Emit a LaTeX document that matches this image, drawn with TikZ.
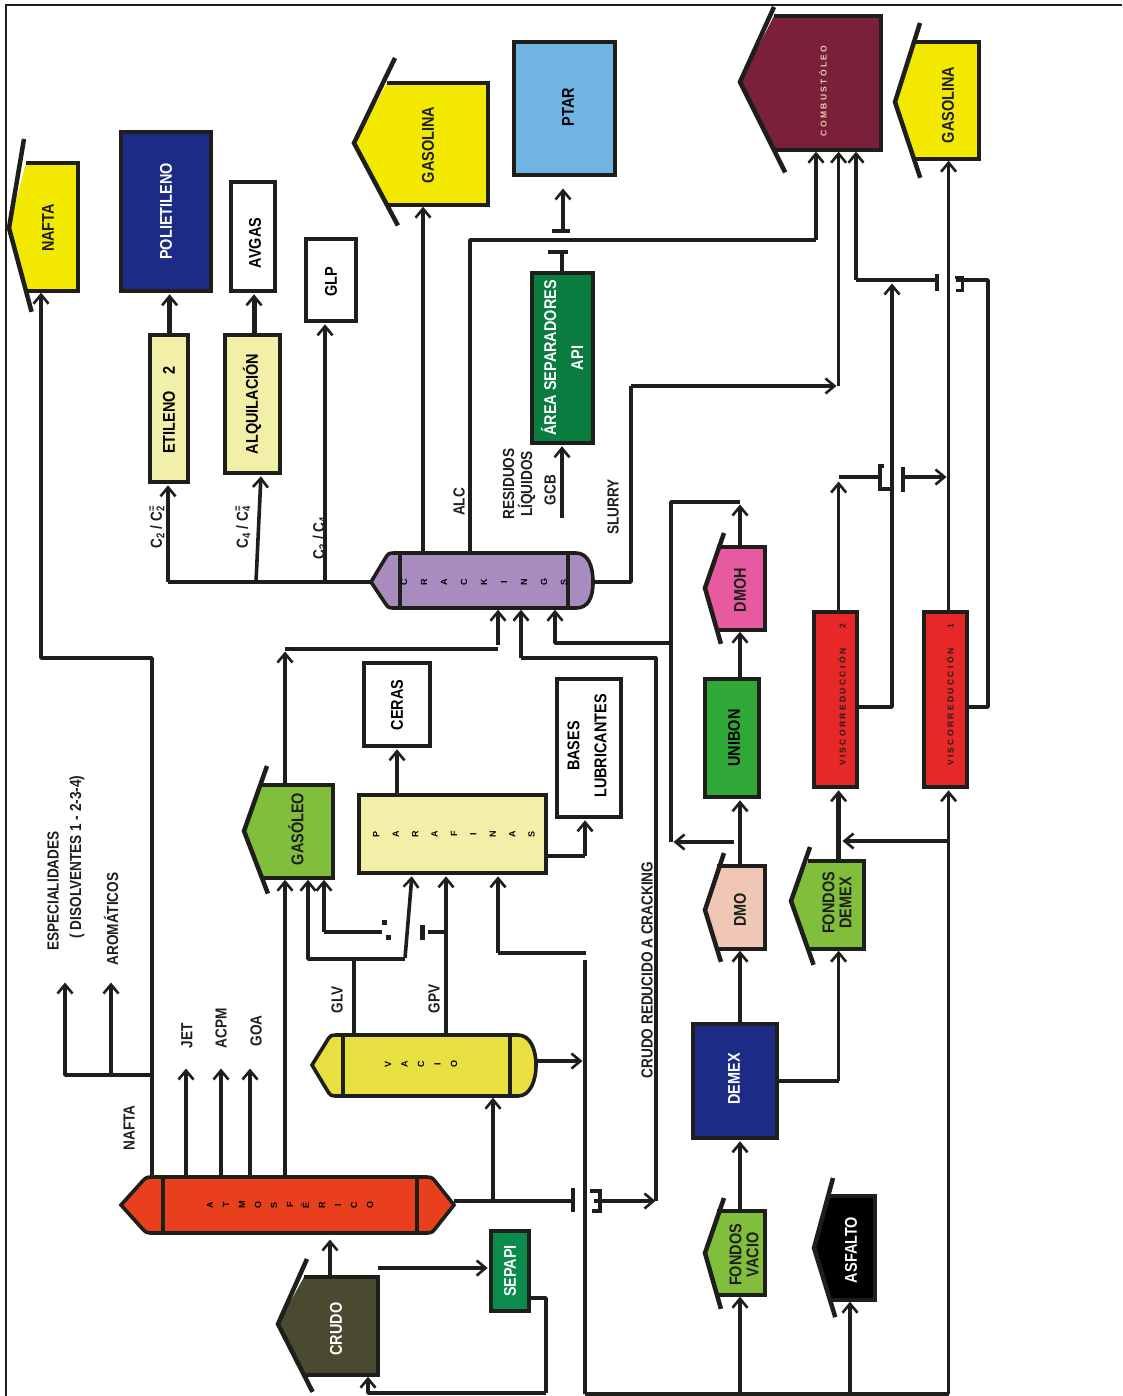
\documentclass[tikz,border=0pt]{standalone}
\usepackage{fontspec}
\setmainfont{Liberation Sans}
\newfontfamily\nar[FakeStretch=0.85]{Liberation Sans}
\usetikzlibrary{arrows.meta,calc}
\definecolor{cYel}{HTML}{F2E800}
\definecolor{cNavy}{HTML}{1C2B85}
\definecolor{cSky}{HTML}{70B4E4}
\definecolor{cGrn}{HTML}{0A7C40}
\definecolor{cLt}{HTML}{F2F0A8}
\definecolor{cLeaf}{HTML}{80BE3C}
\definecolor{cPur}{HTML}{A88CC0}
\definecolor{cRust}{HTML}{E8401C}
\definecolor{cVac}{HTML}{E8E040}
\definecolor{cCrude}{HTML}{4A4A30}
\definecolor{cWine}{HTML}{7A2038}
\definecolor{cPink}{HTML}{E85AA0}
\definecolor{cSalm}{HTML}{F0C6B6}
\definecolor{cUni}{HTML}{30A838}
\definecolor{cRed}{HTML}{E82828}
\definecolor{cSep}{HTML}{0C8C4C}
\definecolor{cInk}{HTML}{1E1E1A}
\tikzset{
  x=1pt,y=-1pt,
  outl/.style={draw=cInk,line width=3.6pt,line join=miter},
  wing/.style={draw=cInk,line width=4.5pt,line join=miter},
  boxn/.style={outl,rectangle,inner sep=0pt,anchor=center,text=cInk},
  ghost/.style={rectangle,inner sep=0pt,anchor=center},
  lbl/.style={rotate=90,inner sep=0pt,align=center,text=cInk,font=\nar\bfseries\fontsize{16}{18}\selectfont},
  txt/.style={rotate=90,inner sep=0pt,align=center,font=\nar\bfseries\fontsize{17}{17}\selectfont},
  flow/.style={draw=cInk,line width=3.6pt,line join=round,shorten >=1.5pt,-{Straight Barb[length=9pt,width=15pt,line width=2.6pt]}},
  pipe/.style={draw=cInk,line width=3.6pt,line join=round},
  tinyt/.style={rotate=90,inner sep=0pt,align=center,font=\fontsize{8.5}{9}\bfseries\selectfont},
  stack/.style={rotate=90,inner sep=0pt,align=center,font=\fontsize{9}{#1}\bfseries\selectfont},
  valvebar/.style={draw=cInk,line width=4pt},
}
\newif\ifpointy
% name, tipx, tipy, cornerx, right, top, bottom, wing top (x,y), fill
\newcommand{\house}[9]{%
  \fill[#9] (#4,#6) -- (#5,#6) -- (#5,#7) -- (#4,#7) -- (#2,#3) -- cycle;
  \draw[outl] (#4,#6) -- (#5,#6) -- (#5,#7) -- (#4,#7);
  \coordinate (#1 wingB) at ($(#2,#3)!1.33!(#4,#7)$);
  \draw[wing] (#8) -- (#2,#3) -- (#1 wingB);
  \node[ghost,minimum width={(#5-#2)*1pt},minimum height={(#7-#6)*1pt}] (#1) at ({(#5+#2)/2},{(#7+#6)/2}) {};
}
% name, left tip, tip y, inner left, inner right, right tip, top, bottom, fill
\newcommand{\colshape}[9]{%
  \coordinate (#1 A) at ({#2+0.6*(#4-#2)},#7);
  \coordinate (#1 B) at ({#2+0.6*(#4-#2)},#8);
  \ifpointy
  \coordinate (#1 C) at ({#6-0.6*(#6-#5)},#7);
  \coordinate (#1 D) at ({#6-0.6*(#6-#5)},#8);
  \draw[outl,fill=#9] (#4,#7) -- ($(#1 A)+(8,0)$) .. controls (#1 A) .. ($(#2,#3)!.8!(#1 A)$) -- (#2,#3)
     -- ($(#2,#3)!.8!(#1 B)$) .. controls (#1 B) .. ($(#1 B)+(8,0)$) -- ($(#1 D)+(-8,0)$)
     .. controls (#1 D) .. ($(#6,#3)!.8!(#1 D)$) -- (#6,#3) -- ($(#6,#3)!.8!(#1 C)$)
     .. controls (#1 C) .. ($(#1 C)+(-8,0)$) -- cycle;
  \else
  \draw[outl,fill=#9] (#4,#7) -- ($(#1 A)+(8,0)$) .. controls (#1 A) .. ($(#2,#3)!.8!(#1 A)$) -- (#2,#3)
     -- ($(#2,#3)!.8!(#1 B)$) .. controls (#1 B) .. ($(#1 B)+(8,0)$) -- (#5+8,#8)
     .. controls (#5+20,#8) and (#6,#3+16) .. (#6,#3)
     .. controls (#6,#3-16) and (#5+20,#7) .. (#5+8,#7) -- cycle;
  \fi
  \draw[outl] (#4,#7) -- (#4,#8) (#5,#7) -- (#5,#8);
  \node[ghost,minimum width={(#6-#2)*1pt},minimum height={(#8-#7)*1pt}] (#1) at ({(#6+#2)/2},{(#8+#7)/2}) {};
}
\begin{document}
\begin{tikzpicture}
\useasboundingbox (0,0) rectangle (1122,1396);
\fill[white] (0,0) rectangle (1122,1396);
\draw[draw=cInk,line width=1.4pt] (6,1396) -- (6,5) -- (1122,5);

% --- house shaped nodes
\house{naf}{9}{228}{26}{78}{163}{291}{24,139}{cYel}
\node[txt,text=cInk] (nafT) at (48,228) {NAFTA};
\house{gas}{354}{143}{387}{488}{83}{205}{395,58}{cYel}
\node[txt,text=cInk] (gasT) at (428,145) {GASOLINA};
\house{com}{740}{82}{774}{881}{16}{150}{774,7}{cWine}
\node[tinyt,text=cSalm] (comT) at (823,91) {C O M B U S T Ó L E O};
\house{gab}{895}{102}{914}{979}{42}{159}{920,23}{cYel}
\node[txt,text=cInk] (gabT) at (948,105) {GASOLINA};
\house{gol}{244}{831}{262}{333}{785}{878}{267,766}{cLeaf}
\node[txt,text=cInk] (golT) at (296,829) {GASÓLEO};
\house{cru}{278}{1324}{304}{378}{1277}{1375}{307,1259}{cCrude}
\node[txt,text=white] (cruT) at (336,1329) {CRUDO};
\house{dmh}{705}{588}{717}{765}{547}{630}{724,533}{cPink}
\node[txt,text=cInk] (dmhT) at (740,590) {DMOH};
\house{dmo}{705}{910}{717}{765}{866}{949}{724,853}{cSalm}
\node[txt,text=cInk] (dmoT) at (740,910) {DMO};
\house{fdx}{791}{901}{808}{864}{861}{949}{810,847}{cLeaf}
\node[txt,text=cInk] (fdxT) at (837,903) {FONDOS\\DEMEX};
\house{fva}{705}{1253}{717}{765}{1211}{1295}{724,1198}{cLeaf}
\node[txt,text=cInk] (fvaT) at (744,1255) {FONDOS\\VACIO};
\house{asf}{814}{1248}{830}{875}{1196}{1300}{833,1178}{black}
\node[txt,text=white] (asfT) at (851,1250) {ASFALTO};

% --- rectangular nodes
\node[boxn,fill=cNavy,minimum width=90pt,minimum height=159pt] (poli) at (166,211.5) {};
\node[txt,text=white] (poliT) at (poli) {POLIETILENO};
\node[boxn,fill=white,minimum width=44pt,minimum height=109pt] (avg) at (253,236.5) {};
\node[txt] (avgT) at (255,243) {AVGAS};
\node[boxn,fill=white,minimum width=50pt,minimum height=82pt] (glp) at (331,280) {};
\node[txt] (glpT) at (331,282) {GLP};
\node[boxn,fill=cSky,minimum width=101pt,minimum height=133pt] (ptar) at (564.5,108.5) {};
\node[txt] (ptarT) at (568,107) {PTAR};
\node[boxn,fill=cGrn,minimum width=61pt,minimum height=170pt] (api) at (562.5,358) {};
\node[txt,text=white] (apiT) at (562,358) {ÁREA SEPARADORES\\[10pt]API};
\node[boxn,fill=cLt,minimum width=38pt,minimum height=147pt] (etil) at (169,408.5) {};
\node[txt] (etilT) at (169,410) {ETILENO\quad 2};
\node[boxn,fill=cLt,minimum width=55pt,minimum height=138pt] (alq) at (252.5,404) {};
\node[txt] (alqT) at (252,404) {ALQUILACIÓN};
\node[boxn,fill=cLt,minimum width=187pt,minimum height=78pt] (para) at (452.5,834) {};
\node[stack=19.4pt] (paraT) at (454,834) {P\\A\\R\\A\\F\\I\\N\\A\\S};
\node[boxn,fill=white,minimum width=66pt,minimum height=83pt] (ceras) at (397,704.5) {};
\node[txt] (cerT) at (397,705) {CERAS};
\node[boxn,fill=white,minimum width=64pt,minimum height=138pt] (bases) at (589,748) {};
\node[txt] (basT) at (587,746) {BASES\\[10pt]LUBRICANTES};
\node[boxn,fill=cSep,minimum width=38pt,minimum height=80pt] (sepapi) at (510,1271) {};
\node[txt,text=white] (sepT) at (510,1271) {SEPAPI};
\node[boxn,fill=cUni,minimum width=54pt,minimum height=118pt] (unibon) at (732,738) {};
\node[txt] (uniT) at (734,738) {UNIBON};
\node[boxn,fill=cNavy,minimum width=84pt,minimum height=114pt] (demex) at (735,1081) {};
\node[txt,text=white] (demT) at (734,1079) {DEMEX};
\node[boxn,fill=cRed,minimum width=43pt,minimum height=175pt] (vis2) at (835.5,699.5) {};
\node[tinyt,text=cInk] (v2T) at (842,695) {V I S C O R R E D U C C I Ó N\hspace{20pt}2};
\node[boxn,fill=cRed,minimum width=43pt,minimum height=175pt] (vis1) at (945.5,699.5) {};
\node[tinyt,text=cInk] (v1T) at (950,695) {V I S C O R R E D U C C I Ó N\hspace{20pt}1};

% --- columns
\pointytrue
\colshape{atm}{121}{1205}{163}{417}{454}{1177}{1233}{cRust}
\pointyfalse
\node[stack=16pt] (atmT) at (290,1205) {A\\T\\M\\O\\S\\F\\É\\R\\I\\C\\O};
\colshape{vac}{312}{1065}{343}{510}{536}{1035}{1096}{cVac}
\node[stack=16.5pt] (vacT) at (421,1064) {V\\A\\C\\I\\O};
\colshape{cra}{371}{582}{400}{568}{593}{553}{608}{cPur}
\node[stack=20pt] (craT) at (484,582) {C\\R\\A\\C\\K\\I\\N\\G\\S};

% --- named junctions
\coordinate (jN) at (152,1075);
\coordinate (jB) at (585,1394);
\coordinate (jX) at (948.6,1394);
\coordinate (jC) at (168,582);
\coordinate (jD) at (671,502);

% --- atmospheric outputs
\draw[pipe] (152,0 |- atm.north) -- (jN);
\draw[flow] (jN) -- (152,658) -- (41,658) -- (41,0 |- naf.south);
\draw[flow] (jN) -- (65,1075) -- (65,981);
\draw[flow] (111,1075) -- (111,981);
\draw[flow] (186,0 |- atm.north) -- (186,1067);
\draw[flow] (221,0 |- atm.north) -- (221,1067);
\draw[flow] (250,0 |- atm.north) -- (250,1067);
\draw[flow] (285,0 |- atm.north) -- (285,0 |- gol.south);
\draw[flow] (285,0 |- gol.north) -- (285,650);
\draw[pipe] (285,649) -- (498,649);
\draw[flow] (498,645) -- (498,0 |- cra.south);
\draw[pipe] (655.7,1201) -- (655.7,658) -- (521,658);
\draw[flow] (521,658) -- (521,0 |- cra.south);
% crude
\draw[flow] (330,0 |- cru.north) -- (330,1238);
\draw[flow] (378,1268) -- (sepapi.west |- 0,1268);
\draw[pipe] (sepapi.east |- 0,1298) -- (546,1298) -- (546,1393);
\draw[flow] (546,1393) -- (368,1393) -- (368,0 |- cru.south);
% atmospheric bottom
\draw[pipe] (atm.east |- 0,1201) -- (573,1201);
\draw[valvebar] (573,1188) -- (573,1212);
\draw[flow] (594,1201) -- (657,1201);
\draw[valvebar] (590,1191) -- (600,1191) -- (600,1211) -- (592,1211);
\draw[flow] (493,1201) -- (493,0 |- vac.south);
% vacuum
\draw[flow] (vac.east |- 0,1061) -- (584,1061);
\draw[pipe] (jB) -- (585,960);
\draw[pipe] (586,953) -- (498,953);
\draw[flow] (498,953) -- (498,0 |- para.south);
\draw[flow] (354,0 |- vac.north) -- (354,959) -- (308,959) -- (308,0 |- gol.south);
\draw[pipe] (354,959) -- (405,959);
\draw[flow] (405,958) -- (412,0 |- para.south);
\draw[flow] (446,0 |- vac.north) -- (446,0 |- para.south);
\draw[pipe] (446,932) -- (428,932);
\draw[valvebar,line width=5pt] (422,925) -- (422,940);
\draw[pipe] (382,932) -- (324,932);
\draw[flow] (324,932) -- (324,0 |- gol.south);
\draw[valvebar,line width=5pt] (384,920) -- (384,925) (388,935) -- (388,940);
% paraffins
\draw[flow] (para.north -| ceras.south) -- (ceras.south);
\draw[pipe] (para.east |- 0,856) -- (585,856);
\draw[flow] (585,856) -- (585,0 |- bases.south);
% cracking outputs
\draw[pipe] (cra.west |- jC) -- (jC);
\draw[flow] (jC) -- (168,0 |- etil.south);
\draw[flow,line width=4.5pt] (169.6,0 |- etil.north) -- (169.6,0 |- poli.south);
\draw[flow] (256,582) -- (261,0 |- alq.south);
\draw[flow,line width=5pt] (254,0 |- alq.north) -- (254,0 |- avg.south);
\draw[flow] (325,582) -- (325,0 |- glp.south);
\draw[flow] (423,0 |- cra.north) -- (423,0 |- gas.south);
\draw[pipe] (470,0 |- cra.north) -- (470,240) -- (816,240);
\draw[flow] (816,240) -- (816,0 |- com.south);
\draw[flow] (562,518) -- (562,0 |- api.south);
\draw[pipe] (562,0 |- api.north) -- (562,253);
\draw[valvebar] (548,252) -- (568,252);
\draw[flow] (563,230) -- (563,187);
\draw[valvebar] (552,231) -- (570,231);
\draw[pipe] (cra.east |- jC) -- (631,582) -- (631,386);
\draw[flow] (631,386) -- (838,386);
\draw[flow] (838.6,386) -- (838.6,0 |- com.south);
% dmo chain
\draw[flow] (740,0 |- fva.north) -- (740,0 |- demex.south);
\draw[flow] (740,0 |- demex.north) -- (740,0 |- dmo.south);
\draw[flow] (740,0 |- dmo.north) -- (740,0 |- unibon.south);
\draw[flow] (740,0 |- unibon.north) -- (740,0 |- dmh.south);
\draw[flow] (740,0 |- dmh.north) -- (740,503);
\draw[pipe] (740,502) -- (jD) -- (671,842);
\draw[flow] (734,842) -- (672,842);
\draw[flow] (671,643) -- (555,643) -- (555,0 |- cra.south);
% demex bottoms
\draw[pipe] (demex.east) -- (838.6,0 |- demex.east);
\draw[flow] (838.6,0 |- demex.east) -- (838.6,0 |- fdx.south);
\draw[flow,line width=4.5pt] (838.6,0 |- fdx.north) -- (838.6,0 |- vis2.south);
\draw[flow] (948.6,841) -- (841,841);
% bottom header
\draw[pipe] (jB) -- (jX);
\draw[flow] (740,1394) -- (740,0 |- fva.south);
\draw[flow] (850,1394) -- (850,0 |- asf.south);
\draw[flow] (jX) -- (948.6,0 |- vis1.south);
% visbreakers
\draw[flow] (948.6,0 |- vis1.north) -- (948.6,0 |- gab.south);
\draw[flow] (838.6,0 |- vis2.north) -- (838.6,480);
\draw[pipe] (838.6,477) -- (880,477);
\draw[valvebar] (884,466) -- (880,466) -- (880,489) -- (890,489);
\draw[valvebar] (903,467) -- (903,492);
\draw[flow] (903,477) -- (948,477);
\draw[flow] (vis2.east |- 0,707) -- (892,707) -- (892,282);
\draw[pipe] (937,280) -- (856,280);
\draw[flow] (856,280) -- (856,0 |- com.south);
\draw[valvebar] (937,274) -- (937,291);
\draw[pipe] (vis1.east |- 0,707) -- (988,707) -- (988,280) -- (956,280);
\draw[valvebar,line width=3pt] (955,278) -- (962,278) -- (962,291) -- (956,291);

% --- labels
\node[lbl] (l1) at (53,891) {ESPECIALIDADES};
\node[lbl] (l2) at (77,857) {( DISOLVENTES 1 - 2-3-4)};
\node[lbl] (l3) at (111,919) {AROMÁTICOS};
\node[lbl] (l4) at (129,1128) {NAFTA};
\node[lbl] (l5) at (187,1036) {JET};
\node[lbl] (l6) at (221,1028) {ACPM};
\node[lbl] (l7) at (256,1031) {GOA};
\node[lbl] (l8) at (337,1000) {GLV};
\node[lbl] (l9) at (434,999) {GPV};
\node[lbl] (l10) at (647,970) {CRUDO REDUCIDO A CRACKING};
\node[lbl] (l11) at (613,507) {SLURRY};
\node[lbl] (l12) at (459,502) {ALC};
\node[lbl] (l13) at (519,484) {RESIDUOS\\LÍQUIDOS};
\node[lbl] (l14) at (550,490) {GCB};
\node[lbl] (l15) at (157,527) {C\textsubscript{2} / C\rlap{\textsubscript{2}}\textsuperscript{=}};
\node[lbl] (l16) at (243,527) {C\textsubscript{4} / C\rlap{\textsubscript{4}}\textsuperscript{=}};
\node[lbl] (l17) at (320,538) {C\textsubscript{3} / C\textsubscript{4}};
\end{tikzpicture}
\end{document}
